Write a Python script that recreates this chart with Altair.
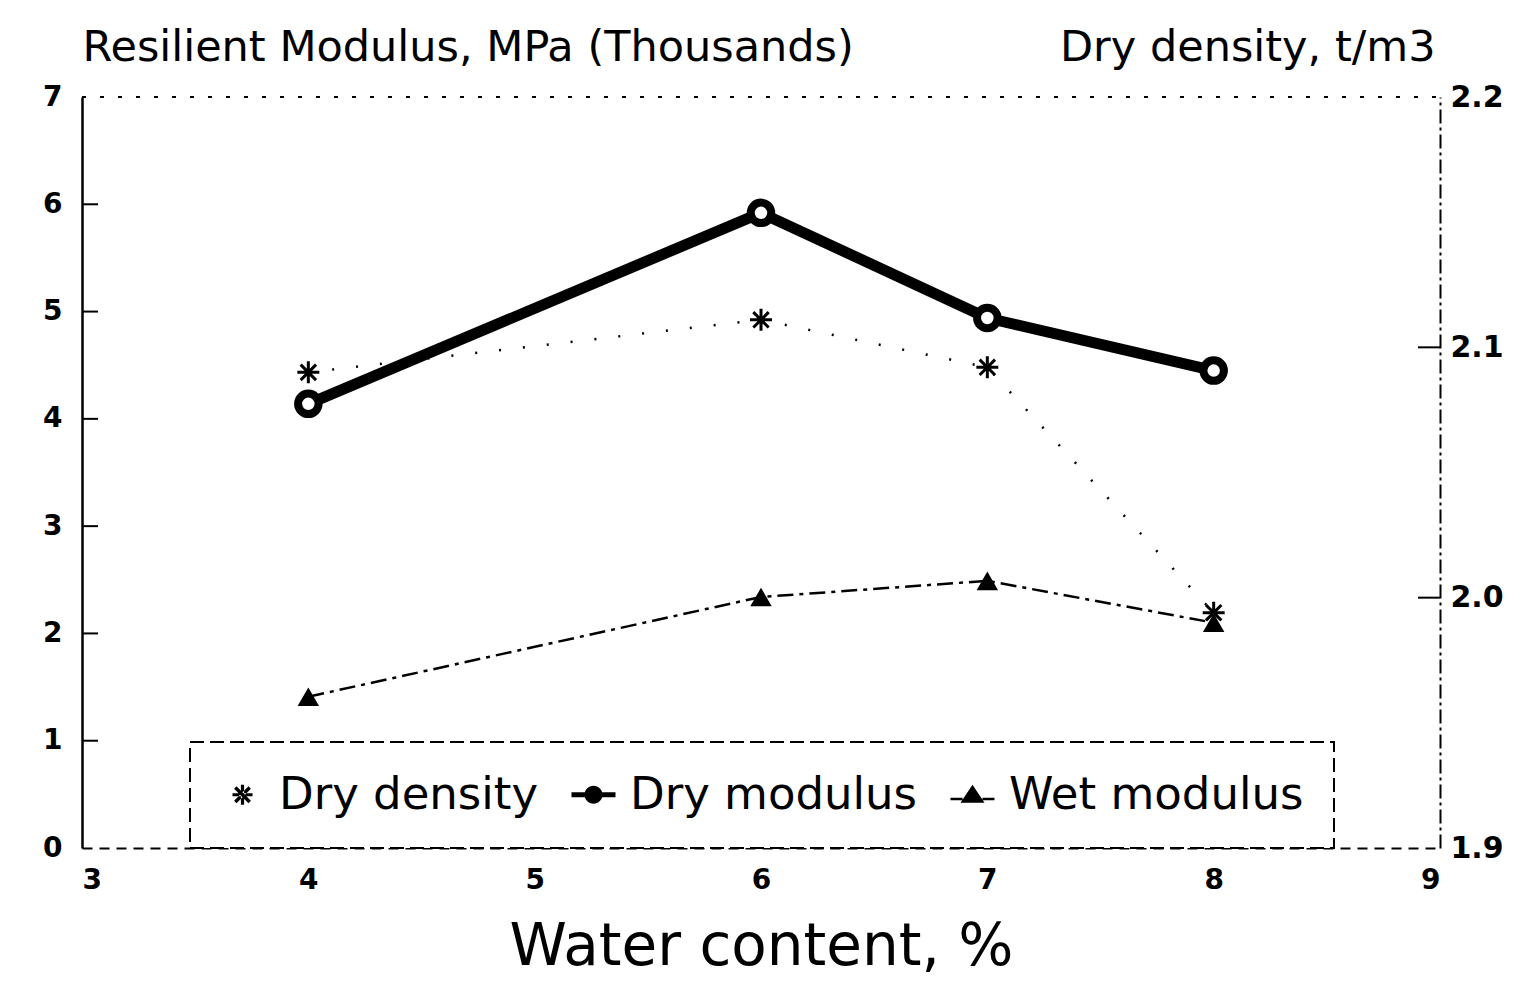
import altair as alt
import pandas as pd

# ---------------- data ----------------
water = [4, 6, 7, 8]
dry_density = [2.090, 2.111, 2.092, 1.994]
dry_modulus = [4.14, 5.92, 4.94, 4.45]
wet_modulus = [1.41, 2.34, 2.49, 2.10]
series_names = ["Dry density", "Dry modulus", "Wet modulus"]
x_ticks = [3, 4, 5, 6, 7, 8, 9]
x_inner_ticks = [4, 5, 6, 7, 8]
left_ticks = [0, 1, 2, 3, 4, 5, 6, 7]
left_inner_ticks = [1, 2, 3, 4, 5, 6]
right_ticks = [1.9, 2.0, 2.1, 2.2]
right_inner_ticks = [2.0, 2.1]

W, H = 1358, 751
FONT = "DejaVu Sans"

df_dm = pd.DataFrame({"x": water, "y": dry_modulus})
df_wm = pd.DataFrame({"x": water, "y": wet_modulus})
df_dd = pd.DataFrame({"x": water, "y": dry_density})
df_leg = pd.DataFrame({"series": series_names})
df_xt = pd.DataFrame({"x": x_inner_ticks})
df_lt = pd.DataFrame({"y": left_inner_ticks})
df_rt = pd.DataFrame({"y": right_inner_ticks})
df_one = pd.DataFrame({"k": [0]})

AST = "M-0.5,0L0.5,0M0,-0.5L0,0.5M-0.35,-0.35L0.35,0.35M-0.35,0.35L0.35,-0.35"
AST_LEG = ("M-0.5,-0.08L0.5,-0.08L0.5,0.08L-0.5,0.08Z M-0.08,-0.5L0.08,-0.5L0.08,0.5L-0.08,0.5Z "
           "M-0.42,-0.3L-0.3,-0.42L0.42,0.3L0.3,0.42Z M-0.42,0.3L-0.3,0.42L0.42,-0.3L0.3,-0.42Z")
MOD = ("M-1.1,-0.12L-0.4,-0.12L-0.4,0.12L-1.1,0.12Z M0.4,-0.12L1.1,-0.12L1.1,0.12L0.4,0.12Z "
       "M-0.45,0A0.45,0.45 0 1,1 0.45,0A0.45,0.45 0 1,1 -0.45,0Z")
WET = "M-1.1,0.15L-0.5,0.15L-0.5,0.27L-1.1,0.27Z M0.5,0.15L1.1,0.15L1.1,0.27L0.5,0.27Z M-0.6,0.4L0,-0.5L0.6,0.4Z"

x_axis = alt.Axis(values=x_ticks, title="Water content, %", format="d",
                  labelFont=FONT, labelFontSize=28, labelFontWeight="bold",
                  labelColor="black", labelPadding=18,
                  titleFont=FONT, titleFontSize=58, titleFontWeight="normal",
                  titleColor="black", titlePadding=24,
                  domainColor="black", domainWidth=2, domainDash=[10, 7],
                  ticks=False, tickSize=0, grid=False)
xenc = alt.X("x:Q", scale=alt.Scale(domain=[3, 9], nice=False, zero=False), axis=x_axis)

left_axis = alt.Axis(values=left_ticks, format="d", title="Resilient Modulus, MPa (Thousands)",
                     titleAngle=0, titleX=0, titleY=-50, titleAlign="left", titleBaseline="middle",
                     titleFont=FONT, titleFontSize=43, titleFontWeight="normal", titleColor="black",
                     labelFont=FONT, labelFontSize=28, labelFontWeight="bold", labelColor="black",
                     labelPadding=20, domainColor="black", domainWidth=2.5,
                     ticks=False, tickSize=0, grid=False)
yleft = alt.Y("y:Q", scale=alt.Scale(domain=[0, 7], nice=False, zero=False), axis=left_axis)

right_axis = alt.Axis(orient="right", values=right_ticks, format=".1f", title="Dry density, t/m3",
                      titleAngle=0, titleX=-5, titleY=-50, titleAlign="right", titleBaseline="middle",
                      titleFont=FONT, titleFontSize=43, titleFontWeight="normal", titleColor="black",
                      labelFont=FONT, labelFontSize=30, labelFontWeight="bold", labelColor="black",
                      labelPadding=10, domainColor="black", domainWidth=2, domainDash=[14, 4, 3, 4],
                      ticks=False, tickSize=0, grid=False)
yright = alt.Y("y:Q", scale=alt.Scale(domain=[1.9, 2.2], nice=False, zero=False), axis=right_axis)

# frame pieces
top_border = alt.Chart(df_one).mark_rule(color="black", strokeWidth=2, strokeDash=[4, 14]).encode(
    x=alt.value(0), x2=alt.value(W), y=alt.value(0))
x_in = alt.Chart(df_xt).mark_rule(color="black", strokeWidth=2).encode(
    x=xenc, y=alt.value(H), y2=alt.value(H - 16))
l_in = alt.Chart(df_lt).mark_rule(color="black", strokeWidth=2).encode(
    y=yleft, x=alt.value(0), x2=alt.value(16))
r_in = alt.Chart(df_rt).mark_rule(color="black", strokeWidth=2).encode(
    y=yright, x=alt.value(W), x2=alt.value(W - 22))

# series
dm_line = alt.Chart(df_dm).mark_line(color="black", strokeWidth=11, strokeJoin="round").encode(x=xenc, y=yleft)
dm_pts = alt.Chart(df_dm).mark_point(shape="circle", size=420, fill="white", stroke="black",
                                     strokeWidth=8, opacity=1, filled=False).encode(x=xenc, y=yleft)
wm_line = alt.Chart(df_wm).mark_line(color="black", strokeWidth=2.5, strokeDash=[16, 6, 4, 6]).encode(x=xenc, y=yleft)
wm_pts = alt.Chart(df_wm).mark_point(shape="triangle-up", size=460, filled=True, color="black",
                                     opacity=1).encode(x=xenc, y=yleft)
dd_line = alt.Chart(df_dd).mark_line(color="black", strokeWidth=2.5, strokeDash=[2, 22]).encode(x=xenc, y=yright)
dd_pts = alt.Chart(df_dd).mark_point(shape=AST, size=1936, filled=False, color="black",
                                     strokeWidth=3, opacity=1).encode(x=xenc, y=yright)

legend_layer = alt.Chart(df_leg).mark_point(size=0, filled=True, fill="black", stroke="black",
                                            strokeWidth=1).encode(
    x=alt.value(0), y=alt.value(0),
    shape=alt.Shape("series:N", scale=alt.Scale(domain=series_names, range=[AST_LEG, MOD, WET]),
                    legend=alt.Legend(title=None, orient="none", legendX=108, legendY=645,
                                      direction="horizontal", columns=3,
                                      labelFont=FONT, labelFontSize=45, labelColor="black",
                                      labelLimit=500, labelOffset=14, columnPadding=30,
                                      symbolSize=1600, symbolOpacity=1,
                                      symbolFillColor="black", symbolStrokeColor="black",
                                      symbolStrokeWidth=1, fillColor="white")))

left = alt.layer(top_border, x_in, l_in, wm_line, wm_pts, dm_line, dm_pts, legend_layer)
right = alt.layer(dd_line, dd_pts, r_in)

chart = alt.layer(left, right).resolve_scale(y="independent").properties(
    width=W, height=H,
    autosize=alt.AutoSizeParams(type="none"),
    padding={"left": 74, "top": 89, "right": 83, "bottom": 132},
    background="white",
).configure_view(stroke=None).configure_legend(
    strokeColor="black", strokeDash=[14, 6], strokeWidth=2, padding=30,
    symbolFillColor="black", symbolStrokeColor="black"
)

chart.save("out.html", embed_options={"renderer": "svg", "actions": False})
